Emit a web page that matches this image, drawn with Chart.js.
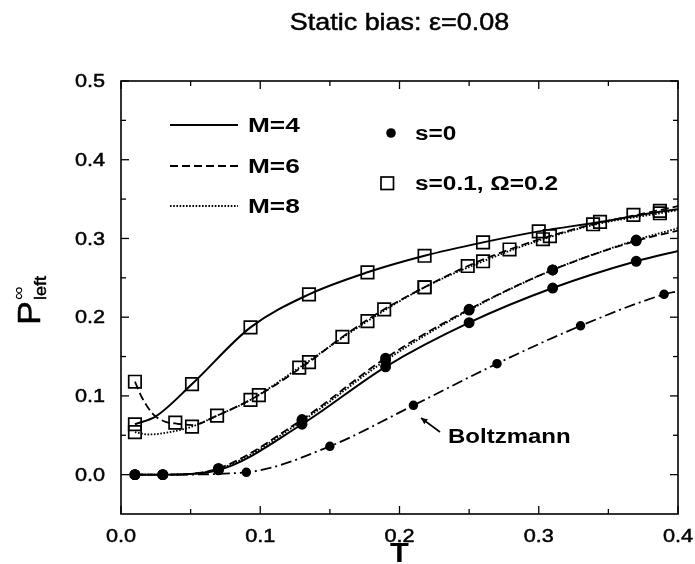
<!DOCTYPE html>
<html><head><meta charset="utf-8">
<script src="https://cdn.jsdelivr.net/npm/chart.js@4"></script>
<style>html,body{margin:0;padding:0;background:#fff;}#wrap{width:695px;height:564px;}</style>
</head><body><div id="wrap"><canvas id="c" width="695" height="564"></canvas></div>
<script>
// ---- text ----
const titleText = 'Static bias: ε=0.08';
const xTitle = 'T';
const yTitleMain = 'P', yTitleSup = '∞', yTitleSub = 'left';
const xTickLabels = ['0.0','0.1','0.2','0.3','0.4'];
const yTickLabels = ['0.0','0.1','0.2','0.3','0.4','0.5'];
const xMinorTicks = [0.05,0.15,0.25,0.35];
const yMinorTicks = [0.05,0.15,0.25,0.35,0.45];
const lineLegendLabels = ['M=4','M=6','M=8'];
const markerLegendLabels = ['s=0','s=0.1, Ω=0.2'];
const annotationText = 'Boltzmann';

// ---- s = 0 (filled circles) ----
const T_s0 = [0.01,0.03,0.07,0.13,0.19,0.25,0.31,0.37];
const P_s0_M4 = [0,0,0.006,0.064,0.137,0.193,0.237,0.271];
const P_s0_M6 = [0,0,0.008,0.070,0.148,0.210,0.260,0.297];
const P_s0_M8 = [0,0,0.007,0.068,0.145,0.209,0.260,0.298];
const T_s0_end = 0.40;
const P_s0_M4_end = 0.284, P_s0_M6_end = 0.310, P_s0_M8_end = 0.313;

// ---- Boltzmann ----
const T_boltz = [0.01,0.03,0.09,0.15,0.21,0.27,0.33,0.39];
const P_boltz = [0,0,0.003,0.036,0.088,0.141,0.189,0.229];
const T_boltz_end = 0.40, P_boltz_end = 0.233;

// ---- s = 0.1, Omega = 0.2 (open squares) : curves ----
const T_s01_M4_line = [0.01,0.025,0.051,0.093,0.135,0.177,0.218,0.26,0.30,0.344,0.387,0.40];
const P_s01_M4_line = [0.064,0.074,0.115,0.187,0.229,0.257,0.278,0.295,0.309,0.321,0.334,0.337];
const T_s01_M6_line = [0.01,0.015,0.023,0.032,0.039,0.051,0.069,0.099,0.135,0.159,0.189,0.218,0.249,0.279,0.308,0.339,0.368,0.40];
const P_s01_M6_line = [0.118,0.098,0.077,0.067,0.065,0.063,0.075,0.101,0.143,0.175,0.210,0.238,0.265,0.286,0.303,0.318,0.329,0.341];
const T_s01_M8_line = [0.01,0.02,0.035,0.051,0.069,0.093,0.128,0.177,0.218,0.26,0.303,0.344,0.387,0.40];
const P_s01_M8_line = [0.054,0.051,0.054,0.061,0.075,0.095,0.136,0.195,0.238,0.271,0.299,0.319,0.332,0.336];
// ---- s = 0.1 : markers ----
const T_s01_M4_pts = [0.01,0.051,0.093,0.135,0.177,0.218,0.26,0.30,0.344,0.387];
const P_s01_M4_pts = [0.064,0.115,0.187,0.229,0.257,0.278,0.295,0.309,0.321,0.335];
const T_s01_M6_pts = [0.01,0.039,0.069,0.099,0.135,0.159,0.189,0.218,0.249,0.279,0.308,0.339,0.368];
const P_s01_M6_pts = [0.118,0.066,0.075,0.101,0.143,0.175,0.210,0.238,0.265,0.286,0.303,0.318,0.330];
const T_s01_M8_pts = [0.01,0.051,0.093,0.128,0.177,0.218,0.26,0.303,0.387];
const P_s01_M8_pts = [0.054,0.061,0.095,0.136,0.195,0.238,0.271,0.299,0.332];

// ---- styles ----
const DASH_M4 = [], DASH_M6 = [8,4], DASH_M8 = [1.6,1.6], DASH_B = [11,4,2,4];
const FONT = "'Liberation Sans', Arial, Helvetica, sans-serif";

const pts = (xs, ys) => xs.map((x,i)=>({x:x, y:ys[i]}));
function lineDS(xs, ys, dash, w){
  return {data:pts(xs,ys), showLine:true, borderColor:'#000', borderWidth:w, borderDash:dash,
    pointRadius:0, fill:false, cubicInterpolationMode:'monotone', order:2};
}
function markDS(xs, ys, style, r, bg){
  return {data:pts(xs,ys), showLine:false, pointStyle:style, pointRadius:r, pointHoverRadius:r,
    backgroundColor:bg, borderColor:'#000', pointBorderWidth:1.7, order:1};
}

const datasets = [
  lineDS([...T_s0,T_s0_end],[...P_s0_M4,P_s0_M4_end],DASH_M4,2),
  lineDS([...T_s0,T_s0_end],[...P_s0_M6,P_s0_M6_end],DASH_M6,1.8),
  lineDS([...T_s0,T_s0_end],[...P_s0_M8,P_s0_M8_end],DASH_M8,1.8),
  lineDS([...T_boltz,T_boltz_end],[...P_boltz,P_boltz_end],DASH_B,1.8),
  lineDS(T_s01_M4_line,P_s01_M4_line,DASH_M4,2),
  lineDS(T_s01_M6_line,P_s01_M6_line,DASH_M6,1.8),
  lineDS(T_s01_M8_line,P_s01_M8_line,DASH_M8,1.8),
  markDS(T_s0,P_s0_M4,'circle',4.6,'#000'),
  markDS(T_s0,P_s0_M6,'circle',4.6,'#000'),
  markDS(T_s0,P_s0_M8,'circle',4.6,'#000'),
  markDS(T_boltz,P_boltz,'circle',3.9,'#000'),
  markDS(T_s01_M4_pts,P_s01_M4_pts,'rect',8.8,'rgba(0,0,0,0)'),
  markDS(T_s01_M6_pts,P_s01_M6_pts,'rect',8.8,'rgba(0,0,0,0)'),
  markDS(T_s01_M8_pts,P_s01_M8_pts,'rect',8.8,'rgba(0,0,0,0)')
];

function sText(ctx, txt, x, y, font, align, sx, stroke){
  ctx.save(); ctx.font = font; ctx.translate(x,y); ctx.scale(sx,1);
  ctx.textAlign = align; ctx.textBaseline = 'middle';
  ctx.fillStyle = '#000'; ctx.fillText(txt,0,0);
  if (stroke){ ctx.strokeStyle='#000'; ctx.lineWidth=stroke; ctx.setLineDash([]); ctx.strokeText(txt,0,0); }
  ctx.restore();
}

const deco = {
  id:'deco',
  afterDraw(chart){
    const ctx = chart.ctx, a = chart.chartArea, xs = chart.scales.x, ys = chart.scales.y;
    ctx.save();
    ctx.strokeStyle = '#000'; ctx.setLineDash([]);
    ctx.lineWidth = 1.6;
    ctx.strokeRect(a.left, a.top, a.right-a.left, a.bottom-a.top);
    ctx.lineWidth = 1.3;
    const seg = (x1,y1,x2,y2)=>{ctx.beginPath();ctx.moveTo(x1,y1);ctx.lineTo(x2,y2);ctx.stroke();};
    xTickLabels.forEach(l=>{const p=xs.getPixelForValue(parseFloat(l)); seg(p,a.bottom,p,a.bottom-8); seg(p,a.top,p,a.top+8);});
    xMinorTicks.forEach(v=>{const p=xs.getPixelForValue(v); seg(p,a.bottom,p,a.bottom-5); seg(p,a.top,p,a.top+5);});
    yTickLabels.forEach(l=>{const p=ys.getPixelForValue(parseFloat(l)); seg(a.left,p,a.left+8,p); seg(a.right,p,a.right-8,p);});
    yMinorTicks.forEach(v=>{const p=ys.getPixelForValue(v); seg(a.left,p,a.left+5,p); seg(a.right,p,a.right-5,p);});
    // tick labels
    const tf = "19px " + FONT;
    xTickLabels.forEach(l=>sText(ctx,l,xs.getPixelForValue(parseFloat(l)),a.bottom+23,tf,'center',1.14,0.5));
    yTickLabels.forEach(l=>sText(ctx,l,a.left-16,ys.getPixelForValue(parseFloat(l))+1,tf,'right',1.14,0.5));
    // title
    sText(ctx,titleText,(a.left+a.right)/2,23,"24.5px "+FONT,'center',1.1,0.5);
    // x title
    sText(ctx,xTitle,(a.left+a.right)/2,554,"bold 28px "+FONT,'center',1.1);
    // y title (rotated)
    ctx.save();
    ctx.translate(40,325); ctx.rotate(-Math.PI/2); ctx.scale(1.12,1);
    ctx.fillStyle='#000'; ctx.strokeStyle='#000'; ctx.lineWidth=0.5;
    ctx.textBaseline='alphabetic'; ctx.textAlign='left';
    ctx.font = "32px "+FONT; ctx.fillText(yTitleMain,0,0); ctx.strokeText(yTitleMain,0,0);
    const pw = ctx.measureText(yTitleMain).width;
    ctx.font = "17px "+FONT; ctx.fillText(yTitleSup,pw+1,-16);
    ctx.font = "16px "+FONT; ctx.fillText(yTitleSub,pw+1,6); ctx.strokeText(yTitleSub,pw+1,6);
    ctx.restore();
    // legend: lines
    const lf = "bold 21px "+FONT;
    const dashes = [DASH_M4,DASH_M6,DASH_M8], lys = [125,166,206];
    lineLegendLabels.forEach((l,i)=>{
      ctx.save(); ctx.lineWidth = i===0?2:1.8; ctx.setLineDash(dashes[i]);
      seg(170,lys[i],238,lys[i]); ctx.restore();
      sText(ctx,l,248,lys[i]+1,lf,'left',1.25);
    });
    // legend: markers
    ctx.save(); ctx.fillStyle='#000'; ctx.beginPath(); ctx.arc(391,133,4.8,0,Math.PI*2); ctx.fill();
    ctx.lineWidth=1.7; ctx.setLineDash([]); ctx.strokeRect(381,177,12.5,12.5); ctx.restore();
    sText(ctx,markerLegendLabels[0],415,134,"bold 20px "+FONT,'left',1.22);
    sText(ctx,markerLegendLabels[1],415,184,"bold 20px "+FONT,'left',1.22);
    // Boltzmann annotation
    sText(ctx,annotationText,448,437,"bold 20px "+FONT,'left',1.2);
    ctx.lineWidth = 1.6; ctx.setLineDash([]);
    const tx=421, ty=418, fx=440, fy=432;
    seg(fx,fy,tx,ty);
    const ang = Math.atan2(ty-fy,tx-fx);
    ctx.beginPath(); ctx.moveTo(tx,ty);
    ctx.lineTo(tx-7*Math.cos(ang-0.45), ty-7*Math.sin(ang-0.45));
    ctx.lineTo(tx-7*Math.cos(ang+0.45), ty-7*Math.sin(ang+0.45));
    ctx.closePath(); ctx.fillStyle='#000'; ctx.fill();
    ctx.restore();
  }
};

new Chart(document.getElementById('c'), {
  type:'scatter',
  data:{datasets:datasets},
  options:{
    responsive:false, animation:false, events:[],
    layout:{padding:{top:81,right:17,left:0,bottom:0}},
    plugins:{legend:{display:false}, tooltip:{enabled:false}, title:{display:false}},
    scales:{
      x:{type:'linear', min:0, max:0.4, afterFit:s=>{s.height=50;},
         grid:{display:false}, border:{display:false}, ticks:{display:false, stepSize:0.1}},
      y:{type:'linear', min:-0.05, max:0.5, afterFit:s=>{s.width=121;},
         grid:{display:false}, border:{display:false}, ticks:{display:false, stepSize:0.1}}
    }
  },
  plugins:[deco]
});
</script></body></html>
